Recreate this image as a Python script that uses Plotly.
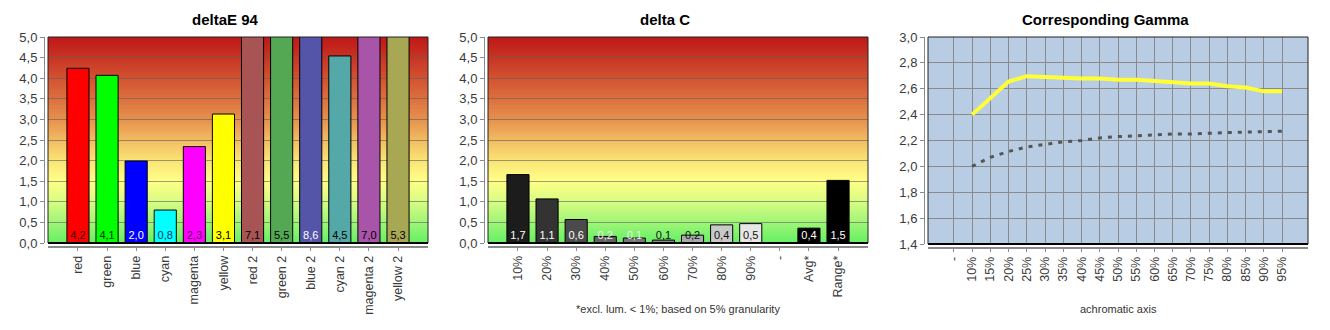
import plotly.graph_objects as go

W, H = 1330, 330

# ---------------- data ----------------
de_cats = ["red", "green", "blue", "cyan", "magenta", "yellow",
           "red 2", "green 2", "blue 2", "cyan 2", "magenta 2", "yellow 2"]
de_vals = [4.24, 4.07, 1.99, 0.80, 2.34, 3.13, 7.1, 5.5, 8.6, 4.54, 7.0, 5.3]
de_colors = ["#ff0000", "#00ff00", "#0000ff", "#00ffff", "#ff00ff", "#ffff00",
             "#a85454", "#54a854", "#5454a8", "#54a8a8", "#a854a8", "#a8a854"]
de_text_colors = ["#3a0000", "#003000", "#ffffff", "#003366", "#550055", "#000000",
                  "#000000", "#000000", "#ffffff", "#000000", "#000000", "#000000"]

dc_cats = ["10%", "20%", "30%", "40%", "50%", "60%", "70%", "80%", "90%", "-", "Avg*", "Range*"]
dc_vals = [1.66, 1.07, 0.57, 0.16, 0.12, 0.07, 0.19, 0.44, 0.47, None, 0.36, 1.52]
dc_colors = ["#1c1c1c", "#333333", "#4b4b4b", "#626262", "#767676", "#8a8a8a",
             "#ababab", "#c9c9c9", "#e6e6e6", "#ffffff", "#000000", "#000000"]
dc_text_colors = ["#ffffff", "#ffffff", "#ffffff", "#f0f0f0", "#f0f0f0", "#111111",
                  "#111111", "#111111", "#111111", "#111111", "#ffffff", "#ffffff"]

g_cats = ["-", "10%", "15%", "20%", "25%", "30%", "35%", "40%", "45%", "50%",
          "55%", "60%", "65%", "70%", "75%", "80%", "85%", "90%", "95%"]
g_measured = [None, 2.40, 2.53, 2.656, 2.697, 2.69, 2.68, 2.68, 2.68, 2.67,
              2.67, 2.66, 2.65, 2.64, 2.64, 2.62, 2.61, 2.58, 2.58]
g_target = [None, 2.00, 2.07, 2.115, 2.15, 2.17, 2.19, 2.20, 2.22, 2.23,
            2.236, 2.24, 2.25, 2.25, 2.257, 2.262, 2.265, 2.27, 2.272]

titles = ["deltaE 94", "delta C", "Corresponding Gamma"]
footnote = "*excl. lum. < 1%; based on 5% granularity"
gamma_xtitle = "achromatic axis"

# background gradient stops (value, rgb)
grad_stops = [(0.0, (100, 240, 100)), (0.5, (160, 245, 120)), (1.0, (215, 252, 130)),
              (1.5, (255, 255, 135)), (2.0, (250, 228, 118)), (2.5, (242, 188, 98)),
              (3.0, (230, 145, 78)), (3.5, (220, 112, 62)), (4.0, (210, 82, 50)),
              (4.5, (200, 52, 36)), (5.0, (190, 24, 24))]

# ---------------- style ----------------
FONT = "Liberation Sans"
TICK_COLOR = "#3a3a3a"
LABEL_Y = 0.17


def fmt(v):
    return f"{v:.1f}".replace(".", ",")


def grad_color(v):
    for (a, ca), (b, cb) in zip(grad_stops[:-1], grad_stops[1:]):
        if a <= v <= b:
            t = (v - a) / (b - a)
            c = [round(ca[i] + (cb[i] - ca[i]) * t) for i in range(3)]
            return f"rgb({c[0]},{c[1]},{c[2]})"
    return "rgb(190,24,24)"


fig = go.Figure()

# chart 1
fig.add_trace(go.Bar(x=de_cats, y=de_vals, marker=dict(color=de_colors, line=dict(color="#000", width=1)),
                     width=0.76, xaxis="x", yaxis="y", showlegend=False, hoverinfo="x+y"))
fig.add_trace(go.Scatter(x=de_cats, y=[LABEL_Y] * len(de_cats), mode="text",
                         text=[fmt(v) for v in de_vals],
                         textfont=dict(family=FONT, size=11, color=de_text_colors),
                         xaxis="x", yaxis="y", showlegend=False, hoverinfo="skip"))

# chart 2
fig.add_trace(go.Bar(x=dc_cats, y=dc_vals, marker=dict(color=dc_colors, line=dict(color="#000", width=1)),
                     width=0.76, xaxis="x2", yaxis="y2", showlegend=False, hoverinfo="x+y"))
lab_x = [c for c, v in zip(dc_cats, dc_vals) if v is not None]
lab_t = [fmt(v) for v in dc_vals if v is not None]
lab_c = [col for col, v in zip(dc_text_colors, dc_vals) if v is not None]
fig.add_trace(go.Scatter(x=lab_x, y=[LABEL_Y] * len(lab_x), mode="text", text=lab_t,
                         textfont=dict(family=FONT, size=11, color=lab_c),
                         xaxis="x2", yaxis="y2", showlegend=False, hoverinfo="skip"))

# chart 3
fig.add_trace(go.Scatter(x=g_cats, y=g_target, mode="lines",
                         line=dict(color="#555555", width=3, dash="4px,6px"),
                         xaxis="x3", yaxis="y3", showlegend=False))
fig.add_trace(go.Scatter(x=g_cats, y=g_measured, mode="lines",
                         line=dict(color="#ffff33", width=4),
                         xaxis="x3", yaxis="y3", showlegend=False))

# layout geometry (pixels)
plots = [
    dict(x0=48, x1=428, y0=37, y1=243, axis_y=247, yaxis_x=44),
    dict(x0=488, x1=868, y0=37, y1=243, axis_y=247, yaxis_x=484),
    dict(x0=928, x1=1308, y0=37, y1=244, axis_y=248, yaxis_x=924),
]
ranges_x = [[-1.03, 12.03], [-1.03, 12.03], [-1.42, 19.42]]
ranges_y = [[0, 5], [0, 5], [1.4, 3.0]]
dticks = [0.5, 0.5, 0.2]

tickfont = dict(family=FONT, size=13, color=TICK_COLOR)
xtickfont = dict(family=FONT, size=12.5, color=TICK_COLOR)

layout = dict(width=W, height=H, margin=dict(l=0, r=0, t=0, b=0, pad=0, autoexpand=False),
              paper_bgcolor="#ffffff", plot_bgcolor="#b8cce4",
              separators=",.", showlegend=False, shapes=[], annotations=[])

for i, p in enumerate(plots):
    sfx = "" if i == 0 else str(i + 1)
    layout["xaxis" + sfx] = dict(
        domain=[p["x0"] / W, p["x1"] / W], anchor="free", position=1 - p["axis_y"] / H,
        type="category", range=ranges_x[i], showline=True, linecolor="#8a8a8a", linewidth=1.5,
        ticks="outside", ticklen=3, tickcolor="#8a8a8a", tickangle=-90, tickfont=xtickfont,
        showgrid=(i == 2), gridcolor="#8a8a8a", gridwidth=1, zeroline=False, fixedrange=True,
        automargin=False)
    layout["yaxis" + sfx] = dict(
        domain=[1 - p["y1"] / H, 1 - p["y0"] / H], anchor="free", position=p["yaxis_x"] / W,
        range=ranges_y[i], dtick=dticks[i], tick0=0, tickformat=".1f", showline=True,
        linecolor="#8a8a8a", linewidth=1, ticks="outside", ticklen=4, tickcolor="#8a8a8a",
        tickfont=tickfont, showgrid=True,
        gridcolor="rgba(95,95,95,0.6)" if i < 2 else "#8a8a8a", gridwidth=1,
        zeroline=False, fixedrange=True, automargin=False)
    xr = "x" + sfx
    yr = "y" + sfx
    # frame
    layout["shapes"].append(dict(type="rect", xref=xr + " domain", yref=yr + " domain",
                                 x0=0, x1=1, y0=0, y1=1, line=dict(color="#222222", width=1),
                                 layer="above"))
    layout["shapes"].append(dict(type="line", xref=xr + " domain", yref=yr + " domain",
                                 x0=0, x1=1, y0=0, y1=0, line=dict(color="#000000", width=2),
                                 layer="above"))
    # title
    layout["annotations"].append(dict(text="<b>" + titles[i] + "</b>", xref="paper", yref="paper",
                                      x=(p["x0"] - 48 + 225) / W, y=1 - 20 / H, showarrow=False,
                                      xanchor="center", yanchor="middle",
                                      font=dict(family=FONT, size=15, color="#000000")))

# gradient backgrounds for first two charts (overlapping strips to avoid seams)
N = 100
for sfx in ["", "2"]:
    for k in range(N):
        a = 5.0 * k / N
        b = 5.0 * (k + 1) / N
        layout["shapes"].append(dict(type="rect", xref="x" + sfx + " domain", yref="y" + sfx,
                                     x0=0, x1=1, y0=a, y1=min(5.0, b + 0.04), line=dict(width=0),
                                     fillcolor=grad_color((a + b) / 2), layer="below"))

# axis titles
layout["annotations"].append(dict(text=footnote, xref="x2 domain", yref="paper", x=0.5, y=1 - 309 / H,
                                  showarrow=False, xanchor="center", yanchor="middle",
                                  font=dict(family=FONT, size=11, color="#333333")))
layout["annotations"].append(dict(text=gamma_xtitle, xref="x3 domain", yref="paper", x=0.5, y=1 - 309 / H,
                                  showarrow=False, xanchor="center", yanchor="middle",
                                  font=dict(family=FONT, size=11, color="#333333")))

fig.update_layout(**layout)
fig.write_html("out.html")
